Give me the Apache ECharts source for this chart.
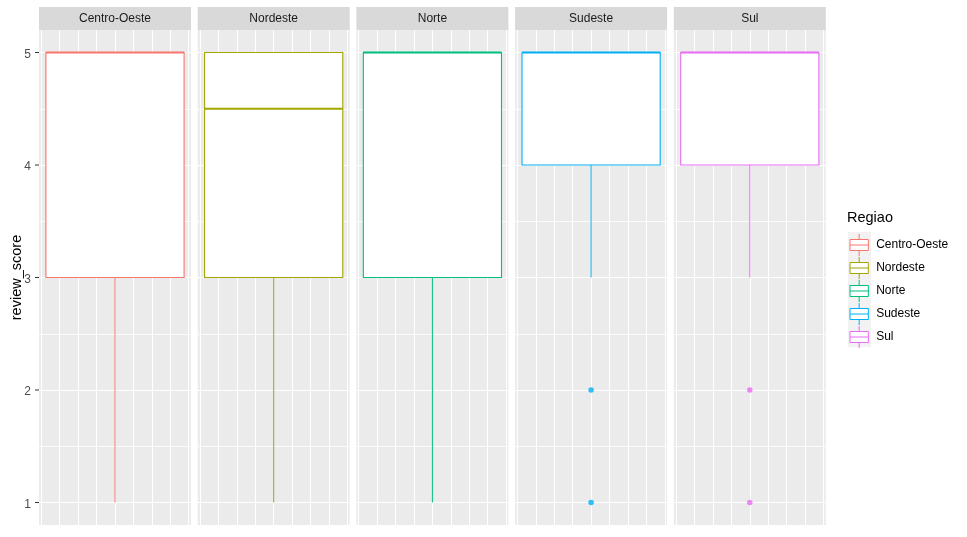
<!DOCTYPE html>
<html><head><meta charset="utf-8">
<script src="https://cdn.jsdelivr.net/npm/echarts@6/dist/echarts.min.js"></script>
<style>html,body{margin:0;padding:0;background:#fff}#c{width:967px;height:537px}</style>
</head><body><div id="c"></div>
<script>
// ---- data ----
const regions = ['Centro-Oeste', 'Nordeste', 'Norte', 'Sudeste', 'Sul'];
// [lower whisker, Q1, median, Q3, upper whisker]
const boxLow    = [1, 1, 1, 3, 3];
const boxQ1     = [3, 3, 3, 4, 4];
const boxMedian = [5, 4.5, 5, 5, 5];
const boxQ3     = [5, 5, 5, 5, 5];
const boxHigh   = [5, 5, 5, 5, 5];
const outliers  = [[], [], [], [2, 1], [2, 1]];
const yTicks = [1, 2, 3, 4, 5];
const yMinor = [1.5, 2.5, 3.5, 4.5];
const xGridLines = [-0.4, -0.3, -0.2, -0.1, 0, 0.1, 0.2, 0.3, 0.4];

// ---- style / layout ----
const colors = ['#F8766D', '#A3A500', '#00BF7D', '#00B0F6', '#E76BF3'];
const FONT = '"Liberation Sans", Arial, sans-serif';
const P_LEFT = 39, P_W = 152, P_STEP = 158.7, P_TOP = 30, P_H = 495;
const BOX_HALF = 0.375;
const X_MIN = -0.4125, X_MAX = 0.4125;

const grids = [], xAxes = [], yAxes = [], series = [], graphics = [];
regions.forEach((r, i) => {
  const left = P_LEFT + i * P_STEP;
  grids.push({left: left, top: P_TOP, width: P_W, height: P_H, show: true,
    backgroundColor: '#EBEBEB', borderWidth: 0, borderColor: 'transparent'});
  xAxes.push({type: 'value', gridIndex: i, min: X_MIN, max: X_MAX,
    axisLine: {show: false}, axisTick: {show: false}, axisLabel: {show: false}, splitLine: {show: false}});
  const first = i === 0;
  yAxes.push({type: 'value', gridIndex: i, min: 0.8, max: 5.2,
    name: first ? 'review_score' : '', nameLocation: 'middle', nameGap: 15, nameRotate: 90,
    nameTextStyle: {fontFamily: FONT, fontSize: 14.5, color: '#000'},
    axisLine: {show: false}, axisTick: {show: false}, axisLabel: {show: false},
    splitLine: {show: false}});
  // grid lines
  series.push({type: 'line', xAxisIndex: i, yAxisIndex: i, data: [], z: 1, silent: true,
    markLine: {z: 1, silent: true, symbol: ['none', 'none'], label: {show: false}, animation: false,
      emphasis: {disabled: true},
      lineStyle: {color: '#FFFFFF', width: 1, type: 'solid'},
      data: [
        ...xGridLines.map(v => ({xAxis: v})),
        ...yTicks.map(v => ({yAxis: v})),
        ...yMinor.map(v => ({yAxis: v, lineStyle: {color: '#FFFFFF', width: 0.8, type: 'solid'}}))
      ]}});
  // box
  const c = colors[i];
  series.push({type: 'custom', name: r, xAxisIndex: i, yAxisIndex: i, z: 3,
    itemStyle: {color: c},
    encode: {x: 0, y: [1, 2, 3, 4, 5]},
    data: [[0, boxLow[i], boxQ1[i], boxMedian[i], boxQ3[i], boxHigh[i]]],
    renderItem: function (params, api) {
      const x = api.value(0);
      const lo = api.value(1), q1 = api.value(2), md = api.value(3), q3 = api.value(4), hi = api.value(5);
      const tl = api.coord([x - BOX_HALF, q3]);
      const br = api.coord([x + BOX_HALF, q1]);
      const pLo = api.coord([x, lo]), pQ1 = api.coord([x, q1]);
      const pQ3 = api.coord([x, q3]), pHi = api.coord([x, hi]);
      const mL = api.coord([x - BOX_HALF, md]), mR = api.coord([x + BOX_HALF, md]);
      return {type: 'group', children: [
        {type: 'line', shape: {x1: pQ1[0], y1: pQ1[1], x2: pLo[0], y2: pLo[1]}, style: {stroke: c, lineWidth: 1}},
        {type: 'line', shape: {x1: pQ3[0], y1: pQ3[1], x2: pHi[0], y2: pHi[1]}, style: {stroke: c, lineWidth: 1}},
        {type: 'rect', shape: {x: tl[0], y: tl[1], width: br[0] - tl[0], height: br[1] - tl[1]},
          style: {fill: '#FFFFFF', stroke: c, lineWidth: 1.1}},
        {type: 'line', shape: {x1: mL[0], y1: mL[1], x2: mR[0], y2: mR[1]}, style: {stroke: c, lineWidth: 2.2}}
      ]};
    }});
  // outliers
  series.push({type: 'scatter', xAxisIndex: i, yAxisIndex: i, z: 4, silent: true,
    symbol: 'circle', symbolSize: 5.5, itemStyle: {color: c},
    data: outliers[i].map(v => [0, v])});
  // y axis ticks + labels (first panel only)
  if (first) {
    series.push({type: 'custom', xAxisIndex: 0, yAxisIndex: 0, z: 4, silent: true, clip: false,
      encode: {y: 0},
      data: yTicks.map(v => [v]),
      renderItem: function (params, api) {
        const v = api.value(0);
        const p = api.coord([X_MIN, v]);
        return {type: 'group', children: [
          {type: 'line', shape: {x1: p[0] - 4, y1: p[1], x2: p[0], y2: p[1]},
            style: {stroke: '#333333', lineWidth: 1}},
          {type: 'text', x: p[0] - 8, y: p[1] + 2,
            style: {text: String(v), fontFamily: FONT, fontSize: 12, fill: '#4D4D4D',
              textAlign: 'right', textVerticalAlign: 'middle'}}
        ]};
      }});
  }
  // strip
  graphics.push({type: 'rect', left: left, top: 7, shape: {width: P_W, height: 23}, style: {fill: '#D9D9D9'}});
  graphics.push({type: 'text', x: left + P_W / 2, y: 18.5,
    style: {text: r, fontFamily: FONT, fontSize: 12, fill: '#1A1A1A', textAlign: 'center', textVerticalAlign: 'middle'}});
});
// legend key background
graphics.push({type: 'rect', left: 848, top: 232, shape: {width: 23, height: 115}, style: {fill: '#F2F2F2'}, z: 0});

const ICON = 'path://M10,0L10,6M0,6L20,6L20,18L0,18ZM0,12L20,12M10,18L10,24';

const option = {
  animation: false,
  title: {text: 'Regiao', left: 847, top: 210, padding: 0,
    textStyle: {fontFamily: FONT, fontSize: 14.5, fontWeight: 'normal', color: '#000'}},
  legend: {orient: 'vertical', left: 849.5, top: 233.5, padding: 0, itemGap: 0,
    itemWidth: 20, itemHeight: 22, selectedMode: false,
    textStyle: {fontFamily: FONT, fontSize: 12, color: '#000', padding: [0, 0, 0, 2]},
    data: regions.map((r, i) => ({name: r, icon: ICON,
      itemStyle: {color: '#FFFFFF', borderColor: colors[i], borderWidth: 1}}))},
  grid: grids, xAxis: xAxes, yAxis: yAxes, series: series, graphic: graphics
};
const chart = echarts.init(document.getElementById('c'), null, {renderer: 'canvas'});
chart.setOption(option);
</script></body></html>
